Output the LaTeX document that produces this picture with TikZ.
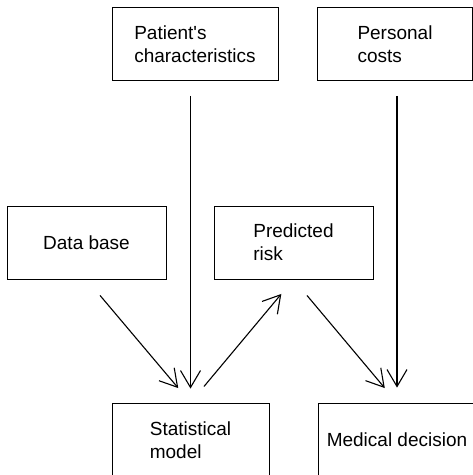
\documentclass[tikz,border=0pt]{standalone}
\usepackage{fontspec}
\newfontfamily\labfont{Liberation Sans}
\usetikzlibrary{arrows.meta}

\begin{document}
\begin{tikzpicture}[x=1pt,y=1pt]
	\tikzstyle{box}=[draw=black,line width=0.8pt,minimum height=73pt,inner sep=0pt,align=left,font=\labfont\fontsize{19}{22.6}\selectfont]
	\tikzstyle{edge}=[draw=black,line width=1.1pt,-{Straight Barb[length=17pt,width=20pt,line width=1.1pt]}]

	\useasboundingbox (0,0) rectangle (473,475);

	 \node [box,minimum width=166pt] (pat) at (195,431) {Patient\textquotesingle s\\characteristics};
	 \node [box,minimum width=155pt] (cost) at (395,431) {Personal\\costs};
	 \node [box,minimum width=159pt] (db) at (86.5,232.5) {Data base};
	 \node [box,minimum width=159pt] (risk) at (293.5,232.5) {Predicted\\risk};
	 \node [box,minimum width=157pt,minimum height=74pt] (stat) at (190.5,35) {Statistical\\model};
	 \node [box,minimum width=158pt,minimum height=74pt] (dec) at (397,35) {Medical decision};

	 \path[edge,shorten <=15pt,shorten >=14pt] (pat.south -| stat.north) -- (stat.north);
	 \path[edge,shorten <=15pt,shorten >=15pt] (cost.south -| dec.north) -- (dec.north);
	 \path[edge,shorten <=21pt,shorten >=19pt] (db.south) -- (stat.north);
	 \path[edge,shorten <=21pt,shorten >=19pt] (stat.north) -- (risk.south);
	 \path[edge,shorten <=21pt,shorten >=19pt] (risk.south) -- (dec.north);

  \end{tikzpicture}
\end{document}
